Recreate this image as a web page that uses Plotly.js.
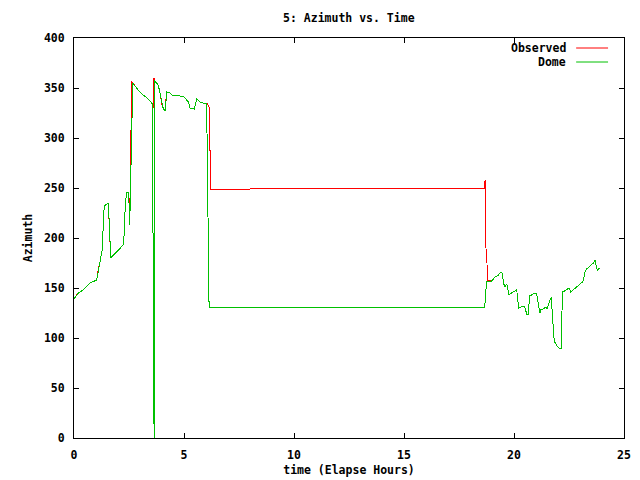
<!DOCTYPE html>
<html>
<head>
<meta charset="utf-8">
<script src="https://cdn.plot.ly/plotly-3.0.1.min.js"></script>
<style>html,body{margin:0;padding:0;background:#fff;}#chart{width:640px;height:480px;}
#chart .scatterlayer path{shape-rendering:crispEdges;}</style>
</head>
<body>
<div id="chart"></div>
<script>
// ---- data ----
const observedT = [0.0, 0.2, 0.42, 0.73, 1.03, 1.08, 1.12, 1.18, 1.3, 1.33, 1.38, 1.56, 1.59, 1.64, 1.67, 1.79, 2.0, 2.24, 2.29, 2.33, 2.39, 2.48, 2.5, 2.52, 2.55, 2.58, 2.6, 2.62, 2.67, 2.7, 2.92, 3.15, 3.33, 3.53, 3.6, 3.62, 3.63, 3.7, 3.83, 3.91, 3.98, 4.06, 4.15, 4.18, 4.21, 4.36, 4.52, 4.67, 4.82, 4.97, 5.05, 5.2, 5.27, 5.47, 5.52, 5.58, 5.73, 5.88, 6.03, 6.1, 6.15, 6.16, 6.2, 6.21, 8.0, 8.01, 18.64, 18.65, 18.68, 18.69, 18.71, 18.72, 18.73, 18.77, 18.78, 18.98, 19.14, 19.29, 19.36, 19.44, 19.48, 19.52, 19.59, 19.67, 19.71, 19.77, 19.89, 20.05, 20.12, 20.15, 20.21, 20.33, 20.45, 20.5, 20.55, 20.58, 20.65, 20.67, 20.71, 20.88, 21.03, 21.06, 21.12, 21.18, 21.2, 21.33, 21.45, 21.5, 21.6, 21.67, 21.7, 21.73, 21.79, 21.83, 21.88, 21.95, 22.06, 22.14, 22.17, 22.21, 22.3, 22.42, 22.5, 22.58, 22.7, 22.85, 23.0, 23.12, 23.18, 23.23, 23.3, 23.45, 23.61, 23.68, 23.73, 23.79, 23.88];
const observedAz = [140, 145, 148, 155, 158, 166, 171, 176, 190, 218, 232, 235, 221, 193, 180, 183, 188, 193, 206, 233, 246, 246, 240, 228, 235, 283, 333, 357, 355, 354, 348, 343, 340, 335, 330, 340, 360, 356, 353, 345, 335, 329, 327, 338, 346, 345, 342, 343, 342, 342, 340, 336, 330, 329, 334, 339, 336, 335, 335, 333, 330, 288, 288, 249, 249, 250, 250, 255, 255, 258, 258, 232, 182, 182, 158, 157, 161, 163, 165, 166, 163, 155, 151, 154, 150, 143, 145, 147, 149, 140, 130, 131, 132, 130, 126, 124, 124, 134, 142, 144, 145, 140, 130, 125, 128, 129, 131, 129, 136, 141, 141, 128, 106, 96, 95, 92, 90, 90, 119, 146, 147, 149, 150, 146, 148, 151, 154, 156, 161, 166, 169, 172, 175, 178, 173, 167, 170];

const domeT = [0.0, 0.2, 0.42, 0.73, 1.03, 1.1, 1.18, 1.3, 1.33, 1.38, 1.56, 1.59, 1.64, 1.67, 1.79, 2.0, 2.24, 2.29, 2.33, 2.39, 2.48, 2.5, 2.53, 2.56, 2.59, 2.62, 2.67, 2.7, 2.92, 3.15, 3.33, 3.53, 3.56, 3.58, 3.6, 3.62, 3.64, 3.66, 3.7, 3.83, 3.91, 3.98, 4.06, 4.15, 4.18, 4.21, 4.36, 4.52, 4.67, 4.82, 4.97, 5.05, 5.2, 5.27, 5.47, 5.52, 5.58, 5.73, 5.88, 6.03, 6.06, 6.11, 6.14, 18.67, 18.7, 18.72, 18.75, 18.98, 19.14, 19.29, 19.36, 19.44, 19.48, 19.52, 19.59, 19.67, 19.71, 19.77, 19.89, 20.05, 20.12, 20.15, 20.21, 20.33, 20.45, 20.5, 20.55, 20.58, 20.65, 20.67, 20.71, 20.88, 21.03, 21.06, 21.12, 21.18, 21.2, 21.33, 21.45, 21.5, 21.6, 21.67, 21.7, 21.73, 21.79, 21.83, 21.88, 21.95, 22.06, 22.14, 22.17, 22.21, 22.3, 22.42, 22.5, 22.58, 22.7, 22.85, 23.0, 23.12, 23.18, 23.23, 23.3, 23.45, 23.61, 23.68, 23.73, 23.79, 23.88];
const domeAz = [139, 145, 148, 155, 158, 165, 176, 190, 218, 232, 235, 221, 193, 180, 183, 188, 193, 206, 233, 246, 246, 235, 213, 240, 283, 316, 355, 354, 348, 343, 340, 335, 335, 253, 85, 180, 0, 358, 356, 353, 345, 335, 329, 327, 338, 346, 345, 342, 343, 342, 342, 340, 336, 330, 329, 334, 339, 336, 335, 335, 285, 181, 131, 131, 138, 150, 156, 157, 161, 163, 165, 166, 163, 155, 151, 154, 150, 143, 145, 147, 149, 140, 130, 131, 132, 130, 126, 124, 124, 134, 142, 144, 145, 140, 130, 125, 128, 129, 131, 129, 136, 141, 141, 128, 106, 96, 95, 92, 90, 90, 119, 146, 147, 149, 150, 146, 148, 151, 154, 156, 161, 166, 169, 172, 175, 178, 173, 167, 170];

const seriesNames = ["Observed", "Dome"];
const xTicks = [0, 5, 10, 15, 20, 25];
const yTicks = [0, 50, 100, 150, 200, 250, 300, 350, 400];

// ---- styling ----
const colors = ["#ff0000", "#00c000"];
const FONT = {family: "DejaVu Sans Mono", size: 11.5, color: "#000000", weight: "bold"};

const traces = [
  {x: observedT, y: observedAz, name: seriesNames[0], type: "scatter", mode: "lines",
   line: {color: colors[0], width: 1, shape: "linear"}, showlegend: false, hoverinfo: "skip"},
  {x: domeT, y: domeAz, name: seriesNames[1], type: "scatter", mode: "lines",
   line: {color: colors[1], width: 1, shape: "linear"}, showlegend: false, hoverinfo: "skip"}
];

// custom gnuplot-like key: text then line sample
const keyTextX = 0.898, keyLineX0 = 0.913, keyLineX1 = 0.971;
const keyY = [0.975, 0.94];
const annotations = seriesNames.map((n, i) => ({
  xref: "paper", yref: "paper", x: keyTextX, y: keyY[i], xanchor: "right", yanchor: "middle",
  text: n, showarrow: false, font: FONT
}));
const shapes = seriesNames.map((n, i) => ({
  type: "line", xref: "paper", yref: "paper", x0: keyLineX0, x1: keyLineX1, y0: keyY[i], y1: keyY[i],
  line: {color: colors[i], width: 1}
}));

const axisCommon = {
  showgrid: false, zeroline: false, showline: true, linecolor: "#000", linewidth: 1,
  mirror: "allticks", ticks: "inside", ticklen: 5, tickwidth: 1, tickcolor: "#000",
  tickfont: FONT
};

const layout = {
  width: 640, height: 480,
  margin: {l: 74, r: 16, t: 38, b: 42, pad: 0},
  paper_bgcolor: "#fff", plot_bgcolor: "#fff",
  font: FONT,
  title: {text: "5: Azimuth vs. Time", font: FONT, x: 0.545, xanchor: "center",
          y: 1 - 18 / 480, yanchor: "middle", yref: "container"},
  xaxis: Object.assign({}, axisCommon, {
    range: [0, 25], tickvals: xTicks, ticktext: xTicks.map(String), ticklabelstandoff: 6,
    title: {text: "time (Elapse Hours)", font: FONT, standoff: 5}
  }),
  yaxis: Object.assign({}, axisCommon, {
    range: [0, 400], tickvals: yTicks, ticktext: yTicks.map(String), ticklabelstandoff: 6,
    title: {text: "Azimuth", font: FONT, standoff: 8}
  }),
  annotations: annotations,
  shapes: shapes,
  showlegend: false
};

Plotly.newPlot("chart", traces, layout, {staticPlot: true, displayModeBar: false});
</script>
</body>
</html>
